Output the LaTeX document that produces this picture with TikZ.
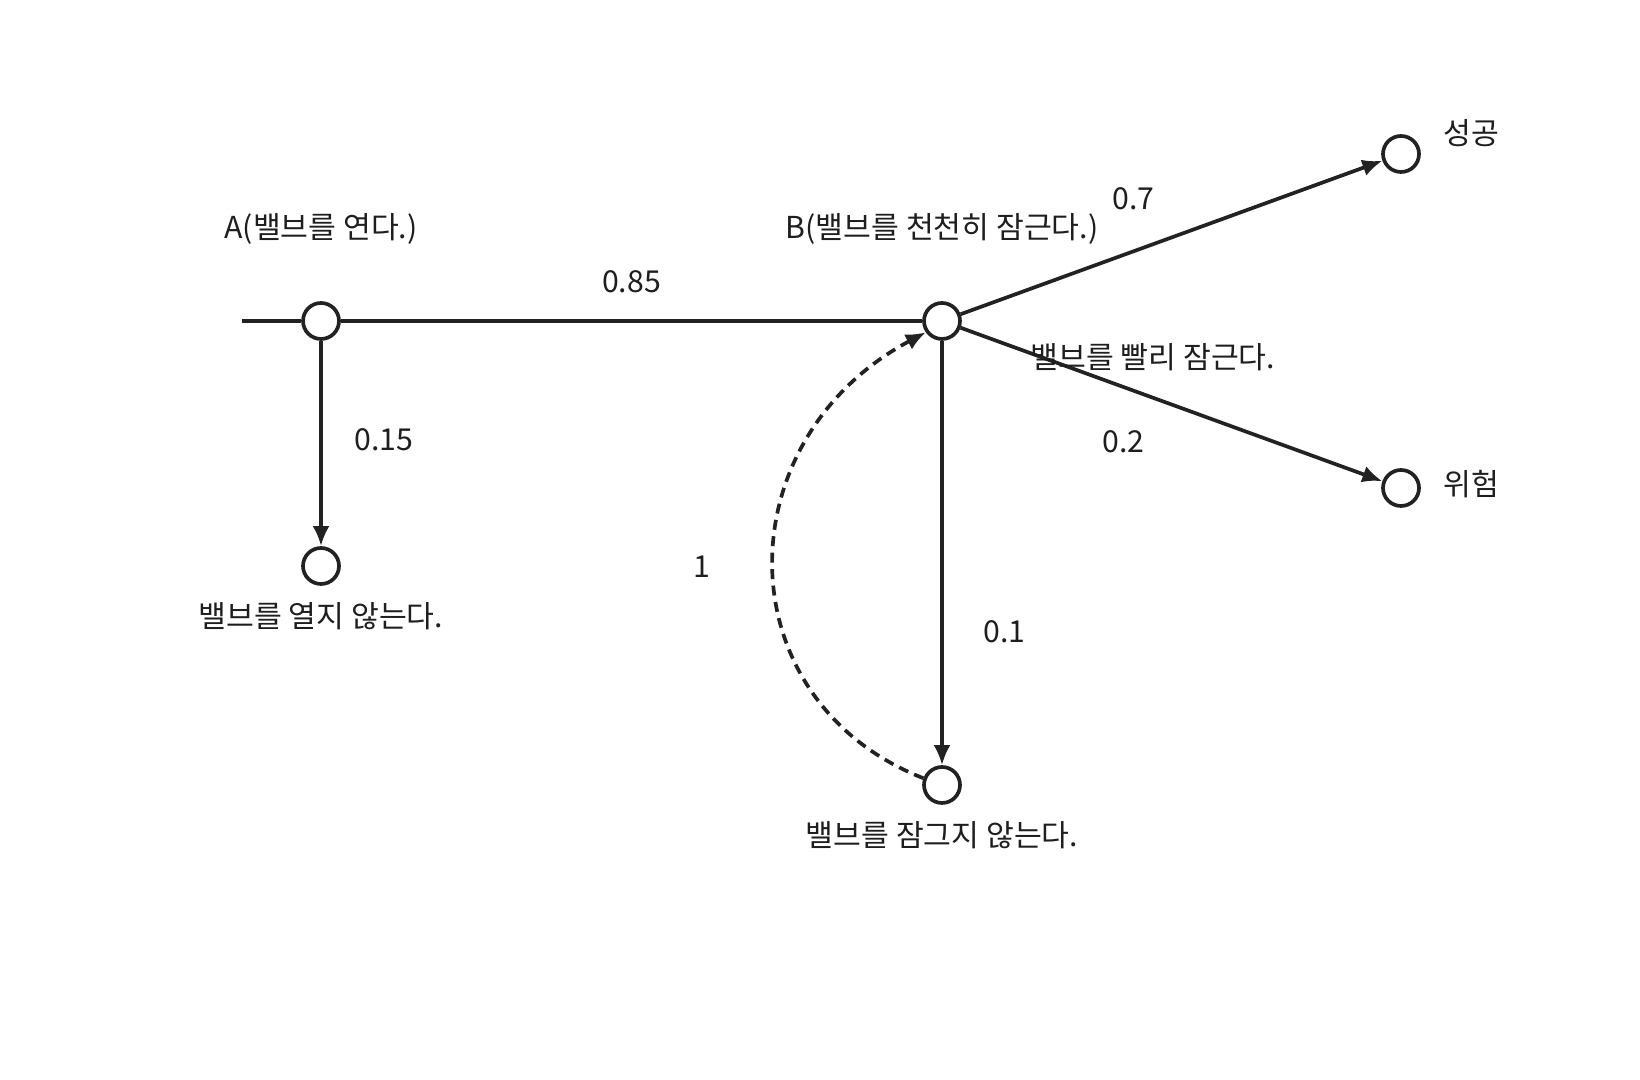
\documentclass[tikz,border=0pt]{standalone}
\usepackage{fontspec}
\setmainfont{Noto Sans CJK KR}
\usepackage{xcolor}
\usetikzlibrary{positioning,arrows.meta}
\definecolor{linegray}{RGB}{34,34,34}
\definecolor{textgray}{RGB}{30,30,30}

\begin{document}
\begin{tikzpicture}[
    state/.style={circle, draw=linegray, line width=1.05pt, minimum size=0.36cm, inner sep=0pt, fill=white},
    link/.style={draw=linegray, line width=1.05pt},
    flow/.style={link, -{Latex[length=2mm, width=1.7mm]}},
    back/.style={flow, dash pattern=on 1mm off 0.65mm},
    lbl/.style={font=\fontsize{8.6pt}{10pt}\selectfont, text=textgray}
]
\useasboundingbox (0,0) rectangle (16.4,10.8);

% states
\coordinate (entry) at (2.42, 7.59);
\node[state] (stateA) at (3.21, 7.59) {};
\node[state] (stateB) at (9.42, 7.59) {};
\node[state] (noOpen) at (3.21, 5.14) {};
\node[state] (noClose) at (9.42, 2.95) {};
\node[state] (success) at (14.01, 9.26) {};
\node[state] (danger) at (14.01, 5.92) {};

% transitions
\draw[link] (entry) -- (stateA);
\draw[link] (stateA) -- node[lbl, midway, above=4pt] {0.85} (stateB);
\draw[flow] (stateA) -- node[lbl, pos=0.48, right=0.2cm] {0.15} (noOpen);
\draw[flow] (stateB) -- node[lbl, pos=0.41, above=0.28cm] {0.7} (success);
\draw[flow] (stateB) -- node[lbl, pos=0.456, above=0.13cm] {밸브를 빨리 잠근다.}
    node[lbl, pos=0.386, below=0.3cm] {0.2} (danger);
\draw[flow] (stateB) -- node[lbl, pos=0.685, right=0.28cm] {0.1} (noClose);
\draw[back] (noClose.160) .. controls (7.24, 3.8) and (7.24, 6.4) .. node[lbl, pos=0.5, left=0.5cm] {1} (stateB.215);

% labels
\node[lbl, above=0.44cm of stateA] {A(밸브를 연다.)};
\node[lbl, above=0.44cm of stateB] {B(밸브를 천천히 잠근다.)};
\node[lbl, below=0.04cm of noOpen] {밸브를 열지 않는다.};
\node[lbl, below=0.04cm of noClose] {밸브를 잠그지 않는다.};
\node[lbl, right=0.1cm of success, yshift=0.21cm] {성공};
\node[lbl, right=0.1cm of danger, yshift=0.04cm] {위험};

\end{tikzpicture}
\end{document}
